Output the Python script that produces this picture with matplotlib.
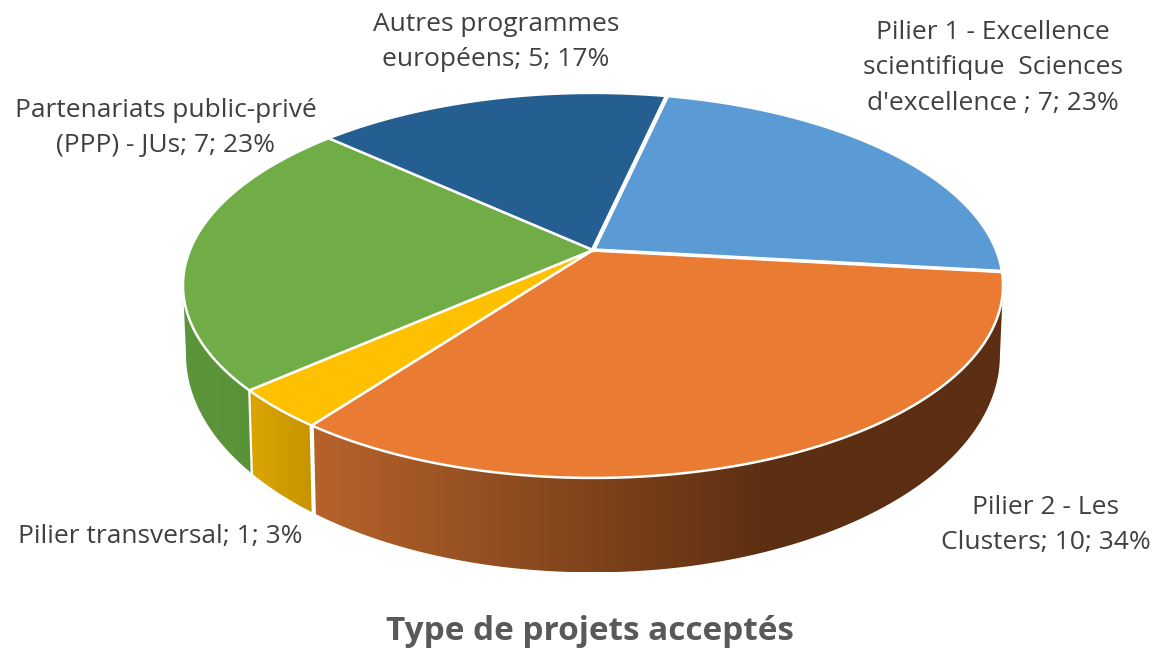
import numpy as np
import matplotlib
matplotlib.use("Agg")
import matplotlib.pyplot as plt
from matplotlib.patches import Polygon

TITLE = "Type de projets acceptés"
CATEGORIES = ["Pilier 1", "Pilier 2", "Pilier transversal", "PPP", "Autres"]
VALUES = [7, 10, 1, 7, 5]
TOP_COLORS = ["#5B9BD5", "#E97B32", "#FFC000", "#70AD47", "#255E91"]
# wall colours, left end then right end of the gradient (None = wall not visible)
WALL_COLORS = [None, ("#B5622A", "#5C2E12"), ("#DCA500", "#C49400"), ("#5C963B", "#5A9238"), None]
LABELS = [
    "Pilier 1 - Excellence\nscientifique  Sciences\nd'excellence ; 7; 23%",
    "Pilier 2 - Les\nClusters; 10; 34%",
    "Pilier transversal; 1; 3%",
    "Partenariats public-privé\n(PPP) - JUs; 7; 23%",
    "Autres programmes\neuropéens; 5; 17%",
]
LABEL_POS = [(993, 68), (1046, 525), (160, 537), (166, 128), (496, 42)]

START = 12.5
K = 0.184
VIS_A, VIS_B = 100.6, 259.4


def project(t_deg, cy, rx, ry):
    """Clockwise angle from 12 o'clock -> pixel position on the tilted disc."""
    t = np.radians(t_deg)
    w = 1 + K * np.cos(t)
    return 593 + rx * np.sin(t) / w, cy - ry * np.cos(t) / w


def top(t):
    return project(t, 250, 403, 186)


def bottom(t):
    return project(t, 315, 400, 210)


fig, ax = plt.subplots(figsize=(11.56, 6.51), dpi=100)
ax.set_position([0, 0, 1, 1])

edges = START + np.cumsum([0] + VALUES) / sum(VALUES) * 360

# walls first, the top faces cover whatever sticks out
for i, cols in enumerate(WALL_COLORS):
    if cols is None:
        continue
    t0, t1 = max(edges[i], VIS_A), min(edges[i + 1], VIS_B)
    ts = np.linspace(t0, t1, 100)
    xt, yt = top(ts)
    xb, yb = bottom(ts[::-1])
    px, py = np.r_[xt, xb], np.r_[yt, yb]
    x0, x1 = px.min(), px.max()
    c0 = np.array(matplotlib.colors.to_rgb(cols[0]))
    c1 = np.array(matplotlib.colors.to_rgb(cols[1]))
    xs = np.linspace(x0, x1, 512)
    if i == 1:
        # orange wall reaches its darkest colour well before the right end
        f = np.clip((xs - 320) / 450, 0, 1)
    else:
        f = (xs - x0) / (x1 - x0)
    grad = (c0[None, :] + (c1 - c0)[None, :] * f[:, None])[None, :, :]
    im = ax.imshow(grad, extent=(x0, x1, py.max(), py.min()), aspect="auto",
                   interpolation="bilinear", zorder=1)
    im.set_clip_path(Polygon(np.c_[px, py], closed=True, transform=ax.transData))

ax.set_xlim(0, 1156)
ax.set_ylim(651, 0)
ax.axis("off")

# white gaps down the wall
for t, lw in [(edges[2], 3.0), (edges[3], 1.6)]:
    xt, yt = top(t)
    xb, yb = bottom(t)
    ax.plot([xt, xb], [yt, yb], color="white", lw=lw, zorder=2)

# top faces
for i, col in enumerate(TOP_COLORS):
    ts = np.linspace(edges[i], edges[i + 1], 120)
    x, y = top(ts)
    ax.fill(np.r_[593, x], np.r_[250, y], facecolor=col, edgecolor="white", lw=1.8,
            joinstyle="round", zorder=3)

# blue slice stands a bit further apart
for t, lw in [(edges[0], 3.2), (edges[1], 2.6)]:
    x, y = top(t)
    ax.plot([593, x], [250, y], color="white", lw=lw, zorder=4)

for lab, (px, py) in zip(LABELS, LABEL_POS):
    ax.text(px, py, lab, ha="center", va="center", fontsize=19, family="Open Sans",
            color="#404040", linespacing=1.54, zorder=5)

ax.text(590, 632, TITLE, ha="center", va="center", fontsize=24, fontweight="bold",
        family="Open Sans", color="#595959", zorder=5)

fig.savefig("out.png", dpi=100)
